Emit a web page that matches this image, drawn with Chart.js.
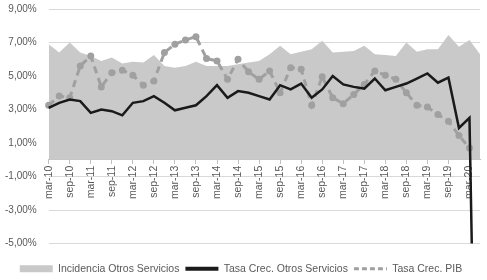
<!DOCTYPE html>
<html>
<head>
<meta charset="utf-8">
<script src="https://cdn.jsdelivr.net/npm/chart.js@4"></script>
<style>
  html, body { margin: 0; padding: 0; background: #fff; }
  #wrap { width: 487px; height: 280px; }
</style>
</head>
<body>
<div id="wrap"><canvas id="grafico"></canvas></div>
<script>
// trimestres mar-10 .. jun-20
const trimestres = [
    'mar-10','jun-10','sep-10','dic-10','mar-11','jun-11','sep-11','dic-11',
    'mar-12','jun-12','sep-12','dic-12','mar-13','jun-13','sep-13','dic-13',
    'mar-14','jun-14','sep-14','dic-14','mar-15','jun-15','sep-15','dic-15',
    'mar-16','jun-16','sep-16','dic-16','mar-17','jun-17','sep-17','dic-17',
    'mar-18','jun-18','sep-18','dic-18','mar-19','jun-19','sep-19','dic-19',
    'mar-20','jun-20'
];

const incidencia = [
    6.9, 6.4, 7.0, 6.4, 6.2, 5.9, 6.1, 5.75, 5.85, 5.8, 6.25, 5.6, 5.5, 5.6,
    5.85, 5.6, 5.6, 5.6, 5.7, 5.8, 5.9, 6.3, 6.8, 6.3, 6.45, 6.6, 7.1, 6.4,
    6.45, 6.5, 6.8, 6.3, 6.25, 6.2, 7.0, 6.45, 6.6, 6.6, 7.45, 6.75, 7.15, 6.3
];

const crecOtros = [
    3.1, 3.4, 3.6, 3.5, 2.8, 3.0, 2.9, 2.65, 3.4, 3.5, 3.8, 3.4, 2.95, 3.1,
    3.25, 3.8, 4.45, 3.7, 4.1, 4.0, 3.8, 3.6, 4.45, 4.2, 4.55, 3.7, 4.2, 5.0,
    4.5, 4.35, 4.25, 4.85, 4.15, 4.35, 4.55, 4.85, 5.15, 4.6, 4.9, 1.9, 2.5, -32
];

const crecPIB = [
    3.25, 3.8, 3.7, 5.6, 6.2, 4.35, 5.2, 5.35, 5.05, 4.45, 4.7, 6.4, 6.9, 7.15,
    7.35, 6.05, 5.9, 4.8, 6.0, 5.25, 4.8, 5.3, 4.0, 5.5, 5.4, 3.25, 4.95, 3.7,
    3.35, 3.9, 4.5, 5.3, 5.05, 4.8, 4.0, 3.25, 3.15, 2.7, 2.3, 1.45, 0.7, null
];

const fuente = "'Liberation Sans Narrow', 'Liberation Sans', sans-serif";
const grisTexto = '#595959';

// como se dibuja cada muestra de la leyenda
const estiloLeyenda = [
    { pointStyle: 'rect', fillStyle: '#c9c9c9', strokeStyle: '#c9c9c9', lineWidth: 0, lineDash: [] },
    { pointStyle: 'line', fillStyle: '#1a1a1a', strokeStyle: '#1a1a1a', lineWidth: 4, lineDash: [] },
    { pointStyle: 'line', fillStyle: '#a0a0a0', strokeStyle: '#a0a0a0', lineWidth: 3, lineDash: [5, 3] }
];

const grafico = document.getElementById('grafico');

new Chart(grafico, {
    type: 'line',
    data: {
        labels: trimestres,
        datasets: [
            {
                label: 'Incidencia Otros Servicios',
                data: incidencia,
                fill: 'origin',
                backgroundColor: '#c9c9c9',
                borderColor: '#c9c9c9',
                borderWidth: 0,
                pointRadius: 0,
                order: 2
            },
            {
                label: 'Tasa Crec. Otros Servicios',
                data: crecOtros,
                borderColor: '#1a1a1a',
                backgroundColor: '#1a1a1a',
                borderWidth: 2.5,
                pointRadius: 0,
                order: 0
            },
            {
                label: 'Tasa Crec. PIB',
                data: crecPIB,
                borderColor: '#a0a0a0',
                backgroundColor: '#a0a0a0',
                borderWidth: 3,
                borderDash: [7, 5],
                pointRadius: 3.5,
                pointBorderWidth: 0,
                pointBackgroundColor: '#a0a0a0',
                order: 1
            }
        ]
    },
    options: {
        responsive: true,
        maintainAspectRatio: false,
        animation: false,
        layout: {
            padding: { left: 2, right: 7, top: 0, bottom: -4 }
        },
        plugins: {
            legend: {
                position: 'bottom',
                // titulo vacio: solo da aire entre el grafico y la leyenda
                title: { display: true, text: '', font: { size: 10 }, padding: 1 },
                labels: {
                    usePointStyle: true,
                    pointStyleWidth: 33,
                    boxWidth: 33,
                    boxHeight: 7,
                    padding: 6,
                    color: grisTexto,
                    font: { family: fuente, size: 10.5 },
                    sort: (a, b) => a.datasetIndex - b.datasetIndex,
                    generateLabels: (chart) => {
                        const items = Chart.defaults.plugins.legend.labels.generateLabels(chart);
                        items.forEach((it) => Object.assign(it, estiloLeyenda[it.datasetIndex]));
                        return items;
                    }
                }
            },
            tooltip: { enabled: false }
        },
        scales: {
            x: {
                position: { y: 0 },
                offset: false,
                // las etiquetas giradas no deben recortar el area a la derecha
                afterFit: (s) => { s.paddingRight = 0; },
                grid: {
                    drawOnChartArea: false,
                    drawTicks: true,
                    tickLength: 4,
                    tickColor: (ctx) => (ctx.index % 2 === 0 ? '#bfbfbf' : 'rgba(0,0,0,0)')
                },
                border: { color: '#bfbfbf' },
                ticks: {
                    autoSkip: false,
                    maxRotation: 90,
                    minRotation: 90,
                    padding: 2,
                    color: grisTexto,
                    font: { family: fuente, size: 10.5 },
                    callback: function (valor, i) {
                        return i % 2 === 0 ? this.getLabelForValue(valor) : '';
                    }
                }
            },
            y: {
                min: -5,
                max: 9,
                ticks: {
                    stepSize: 2,
                    padding: 3,
                    color: grisTexto,
                    font: { family: fuente, size: 10 },
                    callback: (v) => v.toFixed(2).replace('.', ',') + '%'
                },
                grid: {
                    color: '#d9d9d9',
                    drawTicks: true,
                    tickLength: 9,
                    tickColor: 'rgba(0,0,0,0)'
                },
                border: { display: false }
            }
        }
    }
});
</script>
</body>
</html>
